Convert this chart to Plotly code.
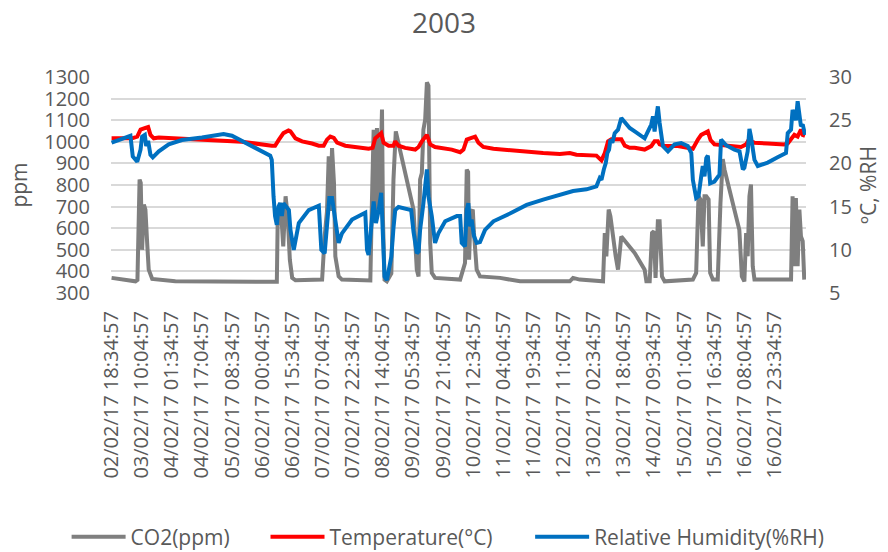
import plotly.graph_objects as go
from datetime import datetime, timedelta

# ---------------- data (hours since 02/02/17 18:34:57) ----------------
start_time = "02/02/17 18:34:57"

co2_hours = [0, 12.3, 13.3, 14.4, 15.0, 15.7, 16.6, 17.4, 18.3, 19.1, 20.9, 32.8, 85.0, 85.4, 86.9,
             88.3, 89.5, 90.6, 91.7, 92.9, 94.6, 108.3, 109.6, 110.8, 111.7, 112.5, 113.4, 114.4,
             115.1, 116.8, 118.5, 133.1, 133.9, 134.8, 135.6, 136.5, 137.4, 138.2, 139.1, 139.6,
             140.4, 141.6, 143.9, 145.0, 146.2, 155.3, 157.0, 157.9, 158.7, 159.6, 160.4, 161.3,
             162.2, 163.0, 163.9, 164.7, 166.4, 179.3, 181.8, 182.7, 183.4, 183.9, 184.7, 185.8,
             186.4, 187.8, 189.5, 199.8, 210.1, 235.7, 237.4, 240.8, 252.8, 253.7, 254.5, 255.7,
             256.6, 257.4, 258.3, 259.3, 260.5, 262.2, 269.1, 274.2, 275.1, 276.8, 278.0, 279.0,
             279.8, 281.0, 281.9, 283.1, 284.5, 299.0, 300.7, 301.9, 302.9, 304.1, 305.0, 305.9,
             307.1, 307.9, 309.3, 311.8, 313.2, 314.4, 315.3, 322.9, 324.2, 325.5, 326.4, 327.2,
             328.1, 328.9, 329.8, 330.7, 349.5, 350.3, 351.2, 352.0, 352.9, 353.8, 354.6, 355.5,
             356.3]
co2_ppm = [370, 354, 360, 825, 810, 500, 709, 686, 532, 408, 365, 354, 352, 609, 717,
           516, 748, 655, 454, 370, 359, 362, 562, 678, 933, 680, 971, 809,
           470, 377, 362, 358, 717, 1056, 624, 1064, 686, 840, 1149, 640,
           362, 354, 390, 825, 1048, 686, 408, 377, 825, 856, 1056, 1102,
           1275, 1260, 532, 393, 370, 362, 439, 871, 860, 454, 670, 686,
           578, 408, 377, 370, 354, 354, 370, 362, 354, 578, 470, 686,
           655, 593, 532, 470, 408, 562, 485, 408, 354, 354, 578, 586,
           370, 632, 632, 377, 354, 362, 393, 748, 733, 516, 748, 748,
           733, 393, 362, 362, 717, 920, 871, 593, 377, 354, 578, 470,
           748, 802, 424, 362, 362, 748, 424, 740, 424, 686, 562, 540,
           362]

temp_hours = [0, 10.6, 13.2, 14.9, 17.4, 18.8, 20.0, 21.7, 24.3, 32.8, 49.9, 67.0, 82.4, 84.1,
              85.9, 88.4, 91.0, 92.0, 94.6, 98.0, 103.1, 106.6, 109.1, 110.8, 112.5, 114.3,
              116.0, 120.2, 132.2, 134.3, 135.6, 138.7, 139.9, 142.5, 145.0, 145.9, 147.6,
              151.0, 156.2, 157.9, 159.6, 162.2, 163.9, 166.4, 175.0, 179.3, 181.0, 182.7,
              184.4, 187.0, 188.7, 191.2, 196.4, 204.9, 213.5, 222.0, 230.6, 235.7, 239.1,
              249.4, 252.0, 253.7, 255.4, 257.1, 262.2, 264.0, 266.5, 269.1, 274.2, 277.6,
              279.3, 281.0, 281.9, 284.5, 291.3, 299.0, 301.6, 303.3, 306.7, 308.1, 310.1,
              317.0, 323.8, 326.4, 328.1, 328.9, 330.7, 337.5, 346.0, 347.8, 349.5, 351.2,
              352.9, 354.6, 355.5, 356.7]
temp_c = [22.9, 22.9, 23.1, 23.9, 24.1, 24.2, 23.3, 22.9, 23.0, 22.9, 22.6, 22.5, 22.05, 22.05,
          22.7, 23.5, 23.8, 23.7, 22.9, 22.55, 22.3, 22.05, 22.05, 22.75, 23.1, 22.95,
          22.4, 22.05, 21.7, 21.8, 22.9, 23.5, 22.4, 22.05, 22.05, 22.55, 22.05,
          21.8, 21.6, 21.9, 22.55, 23.3, 22.2, 21.9, 21.6, 21.3, 21.6, 22.75,
          22.9, 23.1, 22.4, 21.9, 21.7, 21.5, 21.4, 21.2, 21.1, 21.2, 21.0,
          20.9, 20.35, 21.2, 22.55, 22.8, 22.8, 22.05, 21.8, 21.8, 21.6, 22.0,
          22.55, 22.55, 22.2, 22.0, 22.0, 21.7, 22.75, 23.3, 23.7, 22.7, 22.2,
          22.05, 21.9, 22.2, 22.9, 22.55, 22.4, 22.3, 22.2, 22.3, 22.75, 23.3,
          23.1, 23.9, 23.3, 23.2]

rh_hours = [0, 3.7, 9.7, 10.9, 13.2, 14.9, 15.7, 17.1, 17.8, 18.8, 20.0, 21.2, 24.3, 29.4, 36.2,
            46.5, 53.4, 57.6, 61.9, 67.0, 73.9, 81.6, 82.4, 83.3, 84.1, 85.0, 85.9, 86.7, 87.6,
            88.4, 90.1, 91.2, 92.0, 93.7, 96.3, 101.4, 106.6, 107.9, 109.6, 110.8, 112.0,
            113.4, 114.3, 116.8, 118.5, 123.7, 130.5, 131.4, 132.2, 133.6, 134.8, 136.0,
            137.4, 138.7, 139.6, 140.4, 141.6, 142.8, 143.9, 145.0, 145.9, 147.6, 154.1,
            155.3, 157.0, 157.9, 158.7, 160.4, 162.2, 163.0, 164.7, 166.4, 168.1, 171.6,
            177.6, 179.3, 180.1, 181.8, 182.7, 183.5, 184.4, 185.2, 186.4, 187.8, 189.5,
            192.1, 196.4, 204.9, 213.5, 222.0, 230.6, 237.4, 244.3, 249.4, 251.1, 252.0,
            253.2, 254.2, 255.0, 255.9, 256.6, 257.6, 258.8, 260.5, 262.2, 264.0, 266.5,
            269.1, 272.5, 274.2, 275.9, 277.6, 278.5, 279.3, 280.2, 281.0, 281.9, 283.6,
            286.2, 289.6, 293.0, 296.4, 298.2, 299.0, 300.7, 301.9, 303.3, 304.1, 305.0,
            305.9, 306.7, 307.9, 310.1, 312.7, 313.5, 316.1, 320.4, 323.0, 324.7, 325.5,
            327.2, 328.1, 328.9, 330.7, 332.4, 337.5, 342.6, 346.9, 347.8, 349.5, 350.3,
            351.2, 352.0, 352.9, 353.8, 354.6, 355.5, 356.7]
rh_pct = [22.4, 22.75, 23.2, 20.8, 20.2, 21.6, 23.1, 23.3, 22.0, 22.6, 21.0, 20.7, 21.4, 22.2, 22.7,
          23.0, 23.2, 23.4, 23.2, 22.55, 21.8, 20.9, 20.4, 16.2, 13.9, 12.9, 15.0, 15.4, 13.9,
          15.4, 15.0, 14.6, 12.3, 10.0, 13.1, 14.6, 15.1, 10.0, 9.6, 12.7, 16.0,
          16.0, 14.6, 10.8, 11.9, 13.5, 14.3, 10.0, 9.4, 12.7, 15.6, 13.1,
          14.6, 16.6, 11.9, 6.9, 6.5, 8.1, 9.2, 12.5, 14.6, 14.95, 14.6,
          12.1, 9.6, 9.8, 12.3, 15.4, 19.3, 16.2, 13.9, 10.8, 11.9, 13.3,
          13.9, 13.9, 10.8, 10.4, 14.6, 15.4, 12.7, 13.5, 11.6, 10.8, 10.9,
          12.3, 13.3, 14.2, 15.2, 15.8, 16.3, 16.8, 17.0, 17.35, 18.3, 18.1,
          19.3, 20.05, 21.2, 21.6, 22.75, 22.4, 23.5, 23.9, 25.25, 24.7, 24.1,
          23.7, 23.1, 22.9, 23.7, 24.5, 25.45, 23.7, 25.3, 26.6, 24.7, 22.0,
          21.4, 22.2, 22.36, 22.0, 21.2, 18.1, 16.0, 16.2, 18.5, 19.7, 18.5,
          20.6, 20.9, 17.7, 17.9, 18.7, 22.75, 22.1, 21.6, 21.4, 19.3, 19.5,
          21.4, 24.0, 23.1, 20.4, 19.7, 20.1, 20.7, 21.2, 23.5, 23.9, 26.2,
          25.6, 25.0, 27.2, 25.8, 24.3, 24.5, 23.3]

tick_labels = ["02/02/17 18:34:57", "03/02/17 10:04:57", "04/02/17 01:34:57", "04/02/17 17:04:57",
               "05/02/17 08:34:57", "06/02/17 00:04:57", "06/02/17 15:34:57", "07/02/17 07:04:57",
               "07/02/17 22:34:57", "08/02/17 14:04:57", "09/02/17 05:34:57", "09/02/17 21:04:57",
               "10/02/17 12:34:57", "11/02/17 04:04:57", "11/02/17 19:34:57", "12/02/17 11:04:57",
               "13/02/17 02:34:57", "13/02/17 18:04:57", "14/02/17 09:34:57", "15/02/17 01:04:57",
               "15/02/17 16:34:57", "16/02/17 08:04:57", "16/02/17 23:34:57"]

# ---------------- build ----------------
FMT = "%d/%m/%y %H:%M:%S"
t0 = datetime.strptime(start_time, FMT)
def to_dt(hours):
    return [t0 + timedelta(hours=h) for h in hours]

tickvals = [datetime.strptime(s, FMT) for s in tick_labels]

FONT = "Open Sans, Noto Sans, sans-serif"
TXT = "#595959"
LW = 4

fig = go.Figure()
fig.add_trace(go.Scatter(x=to_dt(co2_hours), y=co2_ppm, mode="lines", name="CO2(ppm)",
                         line=dict(color="#7f7f7f", width=LW), yaxis="y", legend="legend"))
fig.add_trace(go.Scatter(x=to_dt(temp_hours), y=temp_c, mode="lines", name="Temperature(°C)",
                         line=dict(color="#ff0000", width=LW), yaxis="y2", legend="legend2"))
fig.add_trace(go.Scatter(x=to_dt(rh_hours), y=rh_pct, mode="lines", name="Relative Humidity(%RH)",
                         line=dict(color="#0070c0", width=LW), yaxis="y2", legend="legend3"))

leg_common = dict(orientation="h", yref="container", y=0.027, yanchor="middle",
                  xref="container", xanchor="left", font=dict(size=21, color=TXT),
                  itemwidth=54, bgcolor="rgba(0,0,0,0)", borderwidth=0)

fig.update_layout(
    width=888, height=552,
    paper_bgcolor="white", plot_bgcolor="white",
    margin=dict(l=111, r=82, t=77, b=259, autoexpand=False),
    font=dict(family=FONT, color=TXT, size=20),
    title=dict(text="2003", x=0.5, xanchor="center", yref="container", y=0.958, yanchor="middle",
               font=dict(size=28, color=TXT)),
    showlegend=True,
    legend=dict(x=0.075, **leg_common),
    legend2=dict(x=0.299, **leg_common),
    legend3=dict(x=0.597, **leg_common),
    xaxis=dict(type="date", range=[t0 - timedelta(hours=0.3), t0 + timedelta(hours=357.2)],
               tickvals=tickvals, ticktext=tick_labels, tickangle=-90, automargin=False,
               showgrid=False, zeroline=False, showline=False, ticks="",
               tickfont=dict(size=20, color=TXT), ticklabelstandoff=13),
    yaxis=dict(range=[300, 1300], dtick=100, tick0=300, showgrid=True, gridcolor="#d9d9d9",
               gridwidth=1.5, zeroline=False, showline=False, ticks="", automargin=False,
               tickfont=dict(size=20, color=TXT), ticklabelstandoff=20,
               title=dict(text="ppm", font=dict(size=21, color=TXT), standoff=10)),
    yaxis2=dict(range=[5, 30], dtick=5, tick0=5, overlaying="y", side="right", showgrid=False,
                zeroline=False, showline=False, ticks="", automargin=False,
                tickfont=dict(size=20, color=TXT), ticklabelstandoff=22,
                title=dict(text="ºC, %RH", font=dict(size=21, color=TXT), standoff=10)),
)

fig.write_html("out.html", config={"displayModeBar": False},
               post_script="document.body.style.margin='0';document.body.style.overflow='hidden';")
